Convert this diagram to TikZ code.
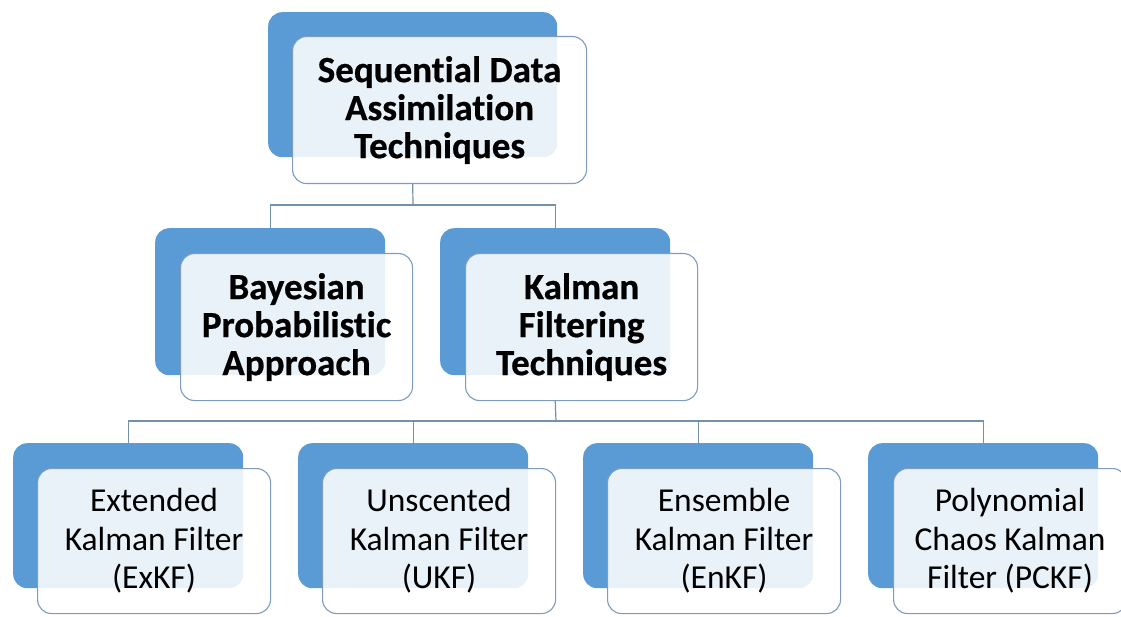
\documentclass[tikz,border=0pt]{standalone}
\usepackage{fontspec}
\setmainfont{Carlito}[Ligatures=NoCommon, BoldFeatures={FakeBold=0.6}]
\definecolor{backblue}{HTML}{5B9BD5}
\definecolor{edgeblue}{HTML}{7F9CBF}
\definecolor{wire}{HTML}{7390AC}
\tikzset{
  backbox/.style={fill=backblue, draw=none, rounded corners=14pt, anchor=north west, inner sep=0pt},
  frontbox/.style={draw=edgeblue, line width=1.1pt, fill=white, fill opacity=0.87, text opacity=1,
    rounded corners=14pt, anchor=north west, inner sep=0pt, align=center,
    font=\fontsize{33.5}{38.5}\selectfont},
  headbox/.style={frontbox, font=\fontsize{37}{38}\selectfont\bfseries},
  link/.style={draw=wire, line width=1.2pt}
}
\begin{document}
\begin{tikzpicture}[x=1pt,y=-1pt]
\useasboundingbox (0,0) rectangle (1121,617);
\clip (0,0) rectangle (1121,617);

% junction points of the two buses
\coordinate (j1) at (413,205);
\coordinate (j2) at (556,421);

% back (blue) cards
\node[backbox, minimum width=289pt, minimum height=145pt] (topb) at (268,12) {};
\node[backbox, minimum width=230pt, minimum height=147pt] (bayb) at (155,228) {};
\node[backbox, minimum width=230pt, minimum height=147pt] (kalb) at (440,228) {};
\node[backbox, minimum width=230pt, minimum height=145pt] (e1b) at (13,443) {};
\node[backbox, minimum width=230pt, minimum height=145pt] (e2b) at (298,443) {};
\node[backbox, minimum width=230pt, minimum height=145pt] (e3b) at (583,443) {};
\node[backbox, minimum width=230pt, minimum height=145pt] (e4b) at (868,443) {};

% connectors
\draw[link] (topb.south |- 0,183) -- (j1);
\draw[link] (bayb.north) |- (j1) -| (kalb.north);
\draw[link] (kalb.south |- 0,400) -- (j2);
\draw[link] (e1b.north) |- (j2) -| (e4b.north);
\draw[link] (e2b.north) -- (e2b.north |- j2);
\draw[link] (e3b.north) -- (e3b.north |- j2);

% front (white) cards with labels
\node[headbox, minimum width=294pt, minimum height=147pt] (top) at (292,36)
  {Sequential Data\\Assimilation\\Techniques};
\node[headbox, minimum width=232pt, minimum height=147pt] (bay) at (180,253)
  {Bayesian\\Probabilistic\\Approach};
\node[headbox, minimum width=232pt, minimum height=147pt] (kal) at (465,253)
  {Kalman\\Filtering\\Techniques};
\node[frontbox, minimum width=233pt, minimum height=145pt] (e1) at (37,468)
  {Extended\\Kalman Filter\\(ExKF)};
\node[frontbox, minimum width=233pt, minimum height=145pt] (e2) at (322,468)
  {Unscented\\Kalman Filter\\(UKF)};
\node[frontbox, minimum width=233pt, minimum height=145pt] (e3) at (607,468)
  {Ensemble\\Kalman Filter\\(EnKF)};
\node[frontbox, minimum width=233pt, minimum height=145pt] (e4) at (893,468)
  {Polynomial\\Chaos Kalman\\Filter (PCKF)};
\end{tikzpicture}
\end{document}
